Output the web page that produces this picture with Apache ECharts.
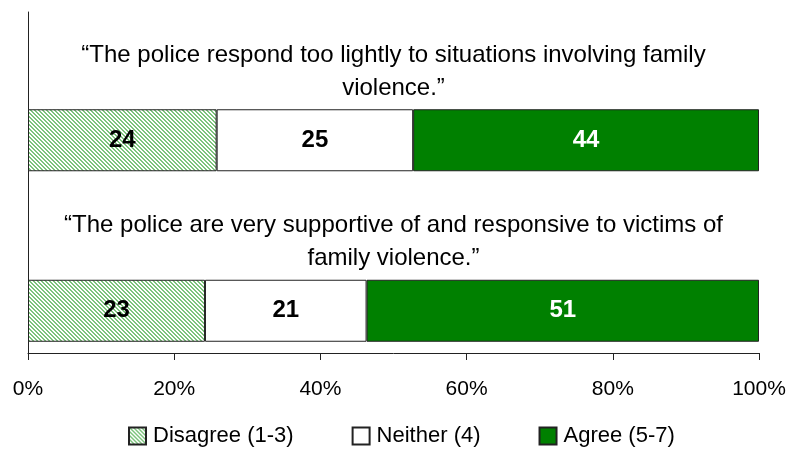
<!DOCTYPE html>
<html>
<head>
<meta charset="utf-8">
<script src="https://cdn.jsdelivr.net/npm/echarts@6/dist/echarts.min.js"></script>
<style>
  html, body { margin: 0; padding: 0; background: #fff; }
  #chart { width: 791px; height: 451px; }
</style>
</head>
<body>
<div id="chart"></div>
<script>
// statements shown above each bar
const questions = [
  '\u201cThe police respond too lightly to situations involving family\nviolence.\u201d',
  '\u201cThe police are very supportive of and responsive to victims of\nfamily violence.\u201d'
]
const seriesNames = ['Disagree (1-3)', 'Neither (4)', 'Agree (5-7)']
const disagree = [24, 23]
const neither = [25, 21]
const agree = [44, 51]
const tickLabels = ['0%', '20%', '40%', '60%', '80%', '100%']

const font = "'Liberation Sans', Arial, sans-serif"

// hatched fill for the disagree segment
function hatch() {
  const c = document.createElement('canvas')
  c.width = 4
  c.height = 4
  const ctx = c.getContext('2d')
  ctx.fillStyle = '#ffffff'
  ctx.fillRect(0, 0, 4, 4)
  ctx.fillStyle = '#7cc47c'
  for (let y = 0; y < 4; y++) {
    for (let x = 0; x < 4; x++) {
      const d = ((x - y) % 4 + 4) % 4
      if (d === 0 || d === 1) ctx.fillRect(x, y, 1, 1)
    }
  }
  return c
}

const rows = [disagree, neither, agree]
const totals = questions.map((q, i) => disagree[i] + neither[i] + agree[i])

const fills = [
  { image: hatch(), repeat: 'repeat' },
  '#ffffff',
  '#008000'
]
const labelColors = ['#000', '#000', '#fff']

const chart = echarts.init(document.getElementById('chart'))

chart.setOption({
  animation: false,
  textStyle: { fontFamily: font },
  legend: {
    data: seriesNames,
    left: 128,
    top: 425,
    padding: 0,
    itemWidth: 17,
    itemHeight: 17,
    itemGap: 58,
    icon: 'rect',
    textStyle: { fontSize: 22, color: '#000', fontFamily: font, padding: [0, 0, 0, 2] }
  },
  grid: [
    { left: 28, right: 32, top: 12, bottom: 98 },
    { left: 28, right: 32, top: 55, bottom: 55 }
  ],
  xAxis: [
    {
      gridIndex: 0,
      type: 'value',
      min: 0,
      max: 100,
      interval: 20,
      axisLine: { show: true, lineStyle: { color: '#222', width: 1 } },
      axisTick: { show: true, length: 7, lineStyle: { color: '#222' } },
      splitLine: { show: false },
      axisLabel: {
        margin: 26,
        fontSize: 21,
        color: '#000',
        fontFamily: font,
        formatter: v => tickLabels[v / 20]
      }
    },
    {
      gridIndex: 1,
      type: 'value',
      min: 0,
      max: 100,
      show: false
    }
  ],
  yAxis: [
    {
      gridIndex: 0,
      type: 'value',
      min: 0,
      max: 1,
      axisLine: { show: true, lineStyle: { color: '#222', width: 1 } },
      axisTick: { show: false },
      axisLabel: { show: false },
      splitLine: { show: false }
    },
    {
      gridIndex: 1,
      type: 'category',
      inverse: true,
      data: questions,
      show: false
    }
  ],
  graphic: questions.map((q, i) => ({
    type: 'text',
    x: 393.5,
    y: [39, 209][i],
    style: {
      text: q,
      fontSize: 24,
      lineHeight: 33,
      fontFamily: font,
      fill: '#000',
      textAlign: 'center'
    }
  })),
  series: seriesNames.map((name, s) => ({
    name: name,
    type: 'bar',
    stack: 'total',
    xAxisIndex: 1,
    yAxisIndex: 1,
    barWidth: 62,
    itemStyle: {
      color: fills[s],
      borderColor: '#222',
      borderWidth: 1
    },
    label: {
      show: true,
      position: 'inside',
      fontSize: 24,
      fontWeight: 'bold',
      fontFamily: font,
      color: labelColors[s],
      formatter: p => rows[s][p.dataIndex]
    },
    data: rows[s].map((v, i) => v / totals[i] * 100)
  }))
})
</script>
</body>
</html>
